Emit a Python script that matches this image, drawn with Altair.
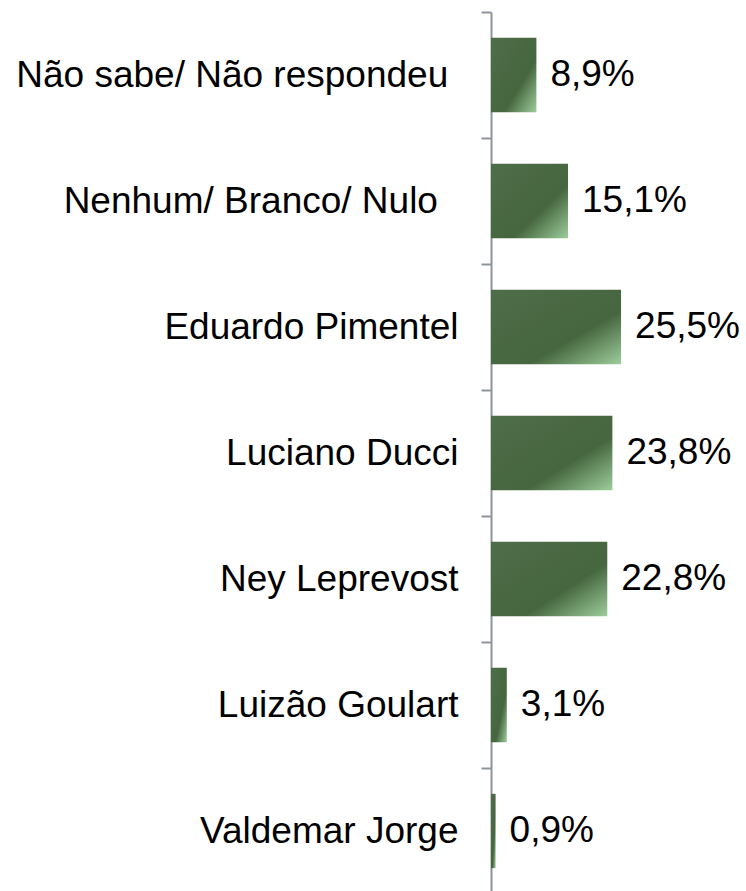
import altair as alt
import pandas as pd

categories = [
    "Não sabe/ Não respondeu",
    "Nenhum/ Branco/ Nulo",
    "Eduardo Pimentel",
    "Luciano Ducci",
    "Ney Leprevost",
    "Luizão Goulart",
    "Valdemar Jorge",
]
values = [8.9, 15.1, 25.5, 23.8, 22.8, 3.1, 0.9]

df = pd.DataFrame({"cat": categories, "val": values})
df["lbl"] = [f"{v:.1f}".replace(".", ",") + "%" for v in values]

grad = alt.Gradient(
    gradient="linear",
    stops=[
        alt.GradientStop(color="#4e6d49", offset=0),
        alt.GradientStop(color="#46663f", offset=0.64),
        alt.GradientStop(color="#9dcd9b", offset=1),
    ],
    x1=0, y1=0, x2=1, y2=1,
)

label_expr = (
    "indexof(datum.label, 'respondeu') >= 0 ? datum.label + '\u00a0\u2060' : "
    "indexof(datum.label, 'Nulo') >= 0 ? datum.label + '\u00a0\u00a0\u2060' : datum.label"
)

y_enc = alt.Y(
    "cat:N",
    sort=categories,
    scale=alt.Scale(paddingInner=0, paddingOuter=0),
    axis=alt.Axis(
        title=None,
        tickBand="extent",
        labelFontSize=37,
        labelFont="Liberation Sans",
        labelColor="black",
        labelLimit=0,
        labelPadding=23,
        labelExpr=label_expr,
        tickSize=10,
        tickWidth=2,
        tickColor="#8e949c",
        domainColor="#8e949c",
        domainWidth=2,
        grid=False,
    ),
)
x_enc = alt.X("val:Q", scale=alt.Scale(domain=[0, 50]), axis=None)

bars = alt.Chart(df).mark_bar(
    color=grad, height=alt.RelativeBandSize(0.59)
).encode(y=y_enc, x=x_enc)
text = alt.Chart(df).mark_text(
    align="left", baseline="middle", dx=14, fontSize=37,
    font="Liberation Sans", color="black",
).encode(y=alt.Y("cat:N", sort=categories), x="val:Q", text="lbl:N")

chart = (
    alt.layer(bars, text)
    .properties(
        width=255,
        height=882,
        autosize=alt.AutoSizeParams(type="none"),
        padding={"left": 491, "top": 12, "right": 0, "bottom": 0},
    )
    .configure_view(stroke=None)
)

chart.save("out.html", embed_options={"renderer": "svg", "actions": False})
